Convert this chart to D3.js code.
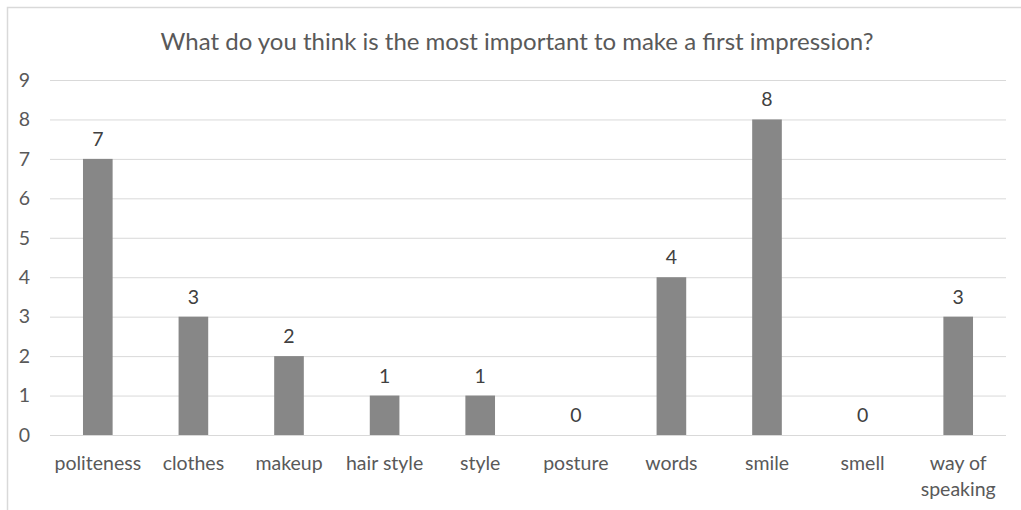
<!DOCTYPE html>
<html><head><meta charset="utf-8">
<script src="https://cdn.jsdelivr.net/npm/d3@7"></script>
<style>body{margin:0;background:#fff;} svg{display:block;}</style>
</head><body>
<svg id="c" width="1021" height="510"></svg>
<script>
const categories = ["politeness","clothes","makeup","hair style","style","posture","words","smile","smell","way of speaking"];
const values = [7,3,2,1,1,0,4,8,0,3];
const yTicks = [0,1,2,3,4,5,6,7,8,9];
const title = "What do you think is the most important to make a first impression?";

const W = 1021, H = 510;
const m = {left:50, right:15, top:80, bottom:75};
const svg = d3.select("#c");
const font = "Lato, 'Open Sans', sans-serif";

svg.append("rect").attr("x",7.5).attr("y",7.5).attr("width",W+20).attr("height",H+20)
  .attr("fill","#fff").attr("stroke","#d9d9d9").attr("stroke-width",1.5);

const x = d3.scaleBand().domain(categories).range([m.left, W-m.right]).paddingInner(0.69).paddingOuter(0.345);
const y = d3.scaleLinear().domain([0,9]).range([H-m.bottom, m.top]);

svg.append("text").attr("x",(m.left+W-m.right)/2 - 11).attr("y",50).attr("text-anchor","middle")
  .attr("font-family",font).attr("font-size",24).attr("fill","#595959").text(title);

const ya = svg.append("g").attr("transform",`translate(${m.left},0)`)
  .call(d3.axisLeft(y).tickValues(yTicks).tickSize(-(W-m.left-m.right)).tickPadding(20));
ya.select(".domain").remove();
ya.selectAll(".tick line").attr("stroke","#d9d9d9").attr("stroke-width",1);
ya.selectAll(".tick text").attr("font-family",font).attr("font-size",19.5).attr("fill","#595959");

svg.append("g").selectAll("rect").data(values).join("rect")
  .attr("x",(d,i)=>x(categories[i])).attr("width",x.bandwidth())
  .attr("y",d=>y(d)).attr("height",d=>y(0)-y(d)).attr("fill","#878787");

svg.append("g").selectAll("text").data(values).join("text")
  .attr("x",(d,i)=>x(categories[i])+x.bandwidth()/2).attr("y",d=>y(d)-13)
  .attr("text-anchor","middle").attr("font-family",font).attr("font-size",19.5).attr("fill","#404040")
  .text(d=>d);

const xa = svg.append("g").attr("transform",`translate(0,${H-m.bottom})`)
  .call(d3.axisBottom(x).tickSize(0).tickPadding(0));
xa.select(".domain").remove();
xa.selectAll(".tick text").remove();
xa.selectAll(".tick").each(function(d){
  const g = d3.select(this);
  const lines = d === "way of speaking" ? ["way of","speaking"] : [d];
  const t = g.append("text").attr("text-anchor","middle").attr("font-family",font)
    .attr("font-size",19.5).attr("fill","#595959");
  lines.forEach((l,i)=>t.append("tspan").attr("x",0).attr("y",35+i*26).text(l));
});
</script>
</body></html>
